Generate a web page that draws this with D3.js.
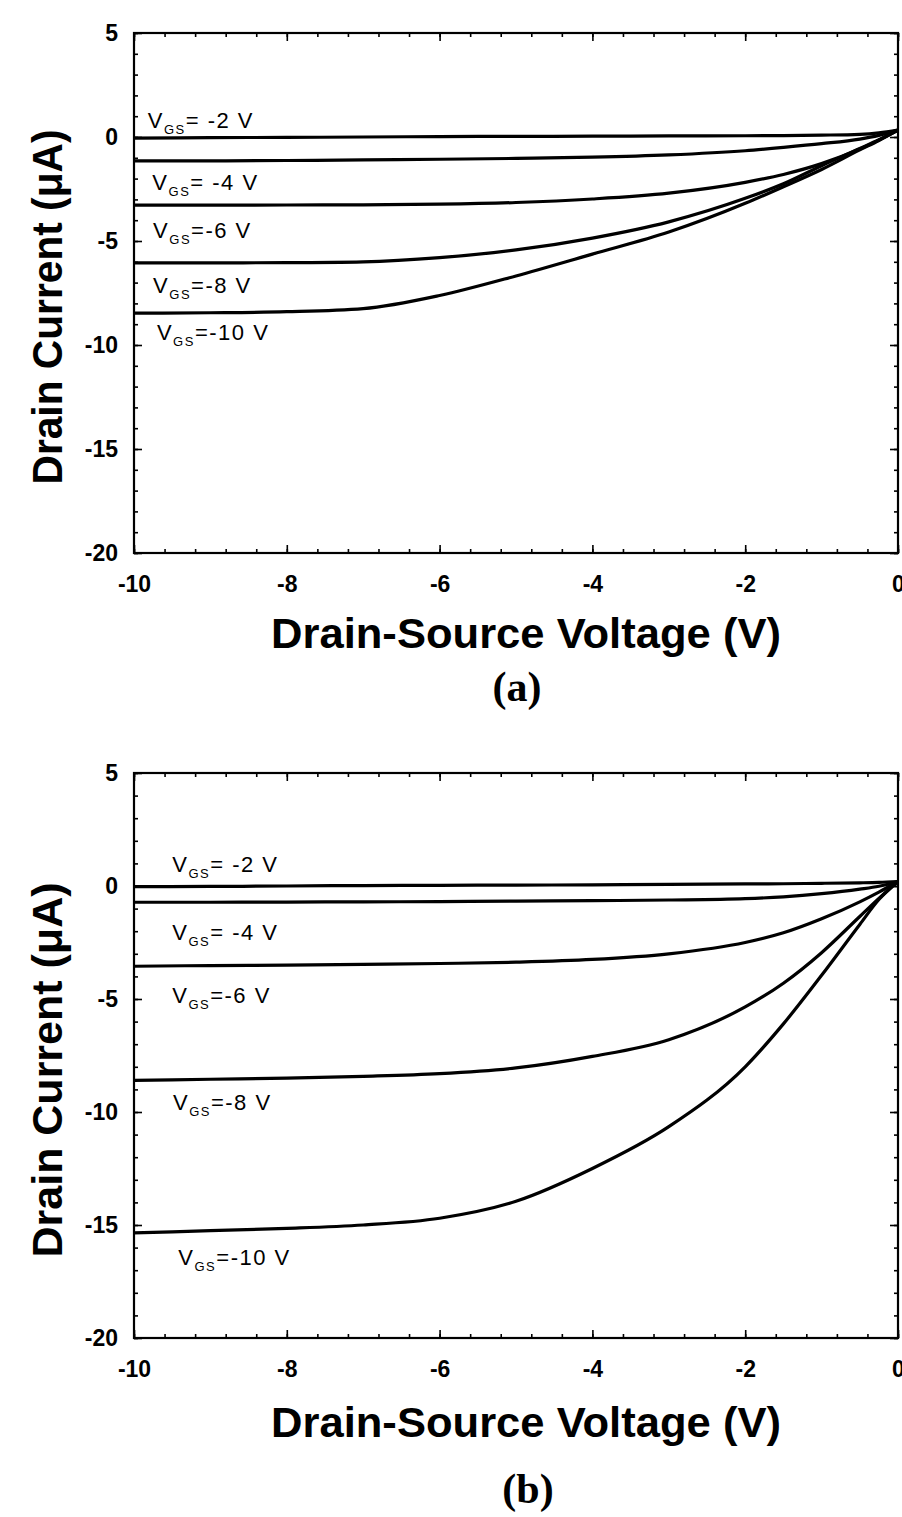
<!DOCTYPE html>
<html>
<head>
<meta charset="utf-8">
<script src="https://cdn.jsdelivr.net/npm/d3@7"></script>
<style>
    body { margin: 0; background: #fff; }
    svg { display: block; }
    .tick text { font-family: "Liberation Sans", Arial, sans-serif; font-weight: bold; font-size: 23px; fill: #000; }
    .axisTitle { font-family: "Liberation Sans", Arial, sans-serif; font-weight: bold; font-size: 42px; fill: #000; }
    .panelTag { font-family: "Liberation Serif", "Times New Roman", serif; font-weight: bold; font-size: 42px; fill: #000; }
    .curveLabel { font-family: "Liberation Sans", Arial, sans-serif; font-size: 22px; letter-spacing: 1.5px; fill: #000; }
</style>
</head>
<body>
<div id="chart"></div>
<script>
// drain-source voltage sample points (V)
const vds = [-10, -9, -8, -7, -6, -5, -4, -3, -2, -1.5, -1, -0.5, -0.25, 0];
const vgsNames = ["-2", "-4", "-6", "-8", "-10"];
const labelTexts = ["= -2 V", "= -4 V", "=-6 V", "=-8 V", "=-10 V"];

// panel (a): drain current (uA), one list per VGS
const idA_vgs2 = [-0.05, -0.03, -0.02, 0, 0.02, 0.03, 0.04, 0.05, 0.06, 0.07, 0.09, 0.13, 0.2, 0.33];
const idA_vgs4 = [-1.15, -1.15, -1.13, -1.1, -1.07, -1.03, -0.97, -0.86, -0.66, -0.5, -0.32, -0.1, 0.08, 0.33];
const idA_vgs6 = [-3.28, -3.28, -3.27, -3.26, -3.23, -3.15, -2.98, -2.7, -2.18, -1.8, -1.28, -0.58, -0.15, 0.33];
const idA_vgs8 = [-6.05, -6.05, -6.04, -6.0, -5.8, -5.43, -4.86, -4.08, -2.95, -2.25, -1.38, -0.55, -0.13, 0.33];
const idA_vgs10 = [-8.47, -8.45, -8.4, -8.25, -7.62, -6.68, -5.63, -4.57, -3.19, -2.39, -1.56, -0.62, -0.17, 0.33];

// panel (b)
const idB_vgs2 = [-0.03, -0.02, 0, 0.02, 0.03, 0.04, 0.05, 0.07, 0.09, 0.1, 0.12, 0.14, 0.16, 0.2];
const idB_vgs4 = [-0.72, -0.72, -0.71, -0.7, -0.69, -0.67, -0.65, -0.62, -0.56, -0.48, -0.34, -0.14, -0.01, 0.2];
const idB_vgs6 = [-3.55, -3.52, -3.5, -3.47, -3.43, -3.37, -3.25, -3.0, -2.5, -2.07, -1.45, -0.7, -0.27, 0.2];
const idB_vgs8 = [-8.6, -8.55, -8.5, -8.42, -8.3, -8.05, -7.54, -6.8, -5.35, -4.3, -2.95, -1.35, -0.55, 0.2];
const idB_vgs10 = [-15.35, -15.25, -15.15, -15.0, -14.7, -13.95, -12.5, -10.65, -8.0, -6.1, -3.95, -1.7, -0.6, 0.2];

// ticks
const xMajor = [-10, -8, -6, -4, -2, 0];
const yMajor = [5, 0, -5, -10, -15, -20];

// label anchors in data units [vds, current]
const labelAtA = [[-9.82, 0.43], [-9.76, -2.55], [-9.75, -4.86], [-9.75, -7.5], [-9.7, -9.76]];
const labelAtB = [[-9.5, 0.62], [-9.5, -2.39], [-9.5, -5.18], [-9.49, -9.91], [-9.42, -16.77]];

const W = 902, H = 1517;
const svg = d3.select("#chart").append("svg")
    .attr("width", W)
    .attr("height", H)
    .style("background", "#fff");

function drawPanel(opts) {
    let left = 134, right = 898;
    let top = opts.top, bottom = opts.bottom;

    let xSc = d3.scaleLinear().domain([-10, 0]).range([left, right]);
    let ySc = d3.scaleLinear().domain([-20, 5]).range([bottom, top]);

    let g = svg.append("g");

    let xMinor = d3.range(-10, 0.001, 0.4).map(v => +v.toFixed(2));
    let yMinor = d3.range(-20, 5.001, 1);

    // minor ticks, all four sides, pointing inward
    g.append("g").attr("transform", "translate(0," + bottom + ")")
        .call(d3.axisBottom(xSc).tickValues(xMinor).tickSize(-4).tickFormat(""));
    g.append("g").attr("transform", "translate(0," + top + ")")
        .call(d3.axisTop(xSc).tickValues(xMinor).tickSize(-4).tickFormat(""));
    g.append("g").attr("transform", "translate(" + left + ",0)")
        .call(d3.axisLeft(ySc).tickValues(yMinor).tickSize(-4).tickFormat(""));
    g.append("g").attr("transform", "translate(" + right + ",0)")
        .call(d3.axisRight(ySc).tickValues(yMinor).tickSize(-4).tickFormat(""));

    // major ticks + labels
    g.append("g").attr("transform", "translate(0," + bottom + ")")
        .call(d3.axisBottom(xSc).tickValues(xMajor).tickSize(-8).tickPadding(23).tickFormat(d => String(d)));
    g.append("g").attr("transform", "translate(0," + top + ")")
        .call(d3.axisTop(xSc).tickValues(xMajor).tickSize(-8).tickFormat(""));
    g.append("g").attr("transform", "translate(" + left + ",0)")
        .call(d3.axisLeft(ySc).tickValues(yMajor).tickSize(-8).tickPadding(16).tickFormat(d => String(d)));
    g.append("g").attr("transform", "translate(" + right + ",0)")
        .call(d3.axisRight(ySc).tickValues(yMajor).tickSize(-8).tickFormat(""));

    g.selectAll(".domain").remove();
    g.selectAll(".tick line").attr("stroke", "#000").attr("stroke-width", 1.6);

    // frame
    g.append("rect")
        .attr("x", left).attr("y", top)
        .attr("width", right - left).attr("height", bottom - top)
        .attr("fill", "none").attr("stroke", "#000").attr("stroke-width", 2.2);

    let line = d3.line()
        .x((d, i) => xSc(vds[i]))
        .y(d => ySc(d))
        .curve(d3.curveMonotoneX);

    g.selectAll("path.iv")
        .data(opts.series)
        .join("path")
        .attr("class", "iv")
        .attr("d", d => line(d))
        .attr("fill", "none")
        .attr("stroke", "#000")
        .attr("stroke-width", 3.2);

    // curve labels
    vgsNames.forEach((name, i) => {
        let p = opts.labelAt[i];
        let t = g.append("text")
            .attr("class", "curveLabel")
            .attr("x", xSc(p[0]))
            .attr("y", ySc(p[1]));
        t.append("tspan").text("V");
        t.append("tspan").attr("dy", 6).style("font-size", "13px").text("GS");
        t.append("tspan").attr("dy", -6).text(labelTexts[i]);
    });

    // axis titles
    g.append("text")
        .attr("class", "axisTitle")
        .attr("x", 526)
        .attr("y", opts.xTitleY)
        .attr("text-anchor", "middle")
        .attr("textLength", 510)
        .attr("lengthAdjust", "spacingAndGlyphs")
        .text("Drain-Source Voltage (V)");

    g.append("text")
        .attr("class", "axisTitle")
        .attr("transform", "translate(62," + opts.yTitleC + ") rotate(-90)")
        .attr("text-anchor", "middle")
        .attr("textLength", opts.yTitleLen)
        .attr("lengthAdjust", "spacingAndGlyphs")
        .text("Drain Current (\u03bcA)");

    g.append("text")
        .attr("class", "panelTag")
        .attr("x", opts.tagX)
        .attr("y", opts.tagY)
        .attr("text-anchor", "middle")
        .text(opts.tag);
}

drawPanel({
    top: 33, bottom: 553,
    series: [idA_vgs2, idA_vgs4, idA_vgs6, idA_vgs8, idA_vgs10],
    labelAt: labelAtA,
    xTitleY: 648, yTitleC: 307, yTitleLen: 355,
    tag: "(a)", tagX: 517, tagY: 701
});

drawPanel({
    top: 773, bottom: 1338,
    series: [idB_vgs2, idB_vgs4, idB_vgs6, idB_vgs8, idB_vgs10],
    labelAt: labelAtB,
    xTitleY: 1437, yTitleC: 1070, yTitleLen: 375,
    tag: "(b)", tagX: 528, tagY: 1503
});
</script>
</body>
</html>
